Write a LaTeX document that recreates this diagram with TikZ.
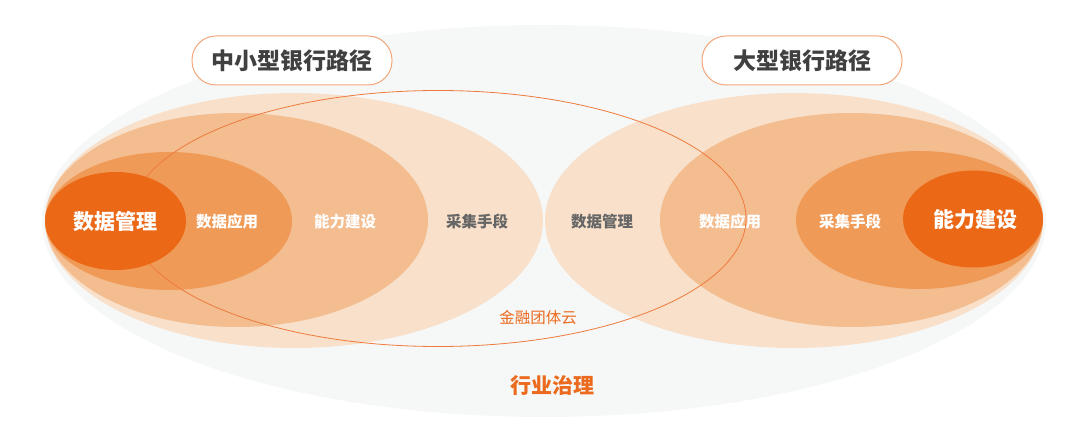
\documentclass[tikz,border=0pt]{standalone}
\usepackage{fontspec}
\newfontfamily\cjk{Noto Sans CJK SC}
\usepackage{xcolor}
\usepackage{tikz}

\definecolor{bggrey}{HTML}{F6F8F8}
\definecolor{ringA}{HTML}{F8E0CA}
\definecolor{ringB}{HTML}{F3BD90}
\definecolor{ringC}{HTML}{F09A57}
\definecolor{ringD}{HTML}{EB6816}
\definecolor{txtdark}{HTML}{404040}
\definecolor{txtgrey}{HTML}{666666}
\definecolor{txtorange}{HTML}{EB6A1E}
\definecolor{boxline}{HTML}{F3A67A}
\definecolor{cloudline}{HTML}{EE7A3C}

\begin{document}
\begin{tikzpicture}[x=1pt,y=-1pt,font=\cjk,
    pathbox/.style={draw=boxline, line width=1pt, fill=white, rounded corners=24pt,
      minimum width=200pt, minimum height=49pt, text=txtdark,
      font=\cjk\bfseries\fontsize{23}{23}\selectfont},
    smalltext/.style={font=\cjk\bfseries\fontsize{15.5}{15.5}\selectfont},
    bigtext/.style={text=white, font=\cjk\bfseries\fontsize{21}{21}\selectfont}]
        \useasboundingbox (0,0) rectangle (1080,433);

        % background ellipse
        \coordinate (G) at (544,221);
        \fill[bggrey] (G) ellipse [x radius=502pt, y radius=196pt];

        % left group, all touching at the left end
        \coordinate (LA) at (294,220.5);
        \coordinate (LB) at (236.5,220);
        \coordinate (LC) at (168.5,221);
        \coordinate (LD) at (115.5,221);
        \fill[ringA] (LA) ellipse [x radius=249pt, y radius=127.5pt];
        \fill[ringB] (LB) ellipse [x radius=191.5pt, y radius=107pt];
        \fill[ringC] (LC) ellipse [x radius=123.5pt, y radius=69pt];

        % right group, mirrored
        \coordinate (RA) at (794,220.5);
        \coordinate (RB) at (851.5,220);
        \coordinate (RC) at (919.5,220);
        \coordinate (RD) at (973,219);
        \fill[ringA] (RA) ellipse [x radius=249pt, y radius=127.5pt];
        \fill[ringB] (RB) ellipse [x radius=191.5pt, y radius=107pt];
        \fill[ringC] (RC) ellipse [x radius=123.5pt, y radius=69pt];
        \fill[ringD] (RD) ellipse [x radius=70pt, y radius=48.5pt];

        % cloud outline
        \coordinate (K) at (438,218.5);
        \draw[cloudline, line width=0.8pt] (K) ellipse [x radius=308pt, y radius=128pt];

        % darkest left ellipse covers the outline
        \fill[ringD] (LD) ellipse [x radius=70.5pt, y radius=49pt];

        % titles
        \node[pathbox] (small) at (292,60.5) {中小型银行路径};
        \node[pathbox] (large) at (802,60.5) {大型银行路径};

        % left labels
        \node[bigtext] (lmgmt) at (LD) {数据管理};
        \node[smalltext, text=white] (lapp) at (227,222) {数据应用};
        \node[smalltext, text=white] (lbuild) at (345,222) {能力建设};
        \node[smalltext, text=txtgrey] (lcollect) at (477,222) {采集手段};

        % right labels
        \node[smalltext, text=txtgrey] (rmgmt) at (602,222) {数据管理};
        \node[smalltext, text=white] (rapp) at (730,222) {数据应用};
        \node[smalltext, text=white] (rcollect) at (850,222) {采集手段};
        \node[bigtext] (rbuild) at (975,220) {能力建设};

        % bottom labels
        \node[text=txtorange, font=\cjk\fontsize{15.5}{15.5}\selectfont] (cloud) at (538,318) {金融团体云};
        \node[text=txtorange, font=\cjk\bfseries\fontsize{21}{21}\selectfont] (govern) at (552,386) {行业治理};

\end{tikzpicture}
\end{document}
